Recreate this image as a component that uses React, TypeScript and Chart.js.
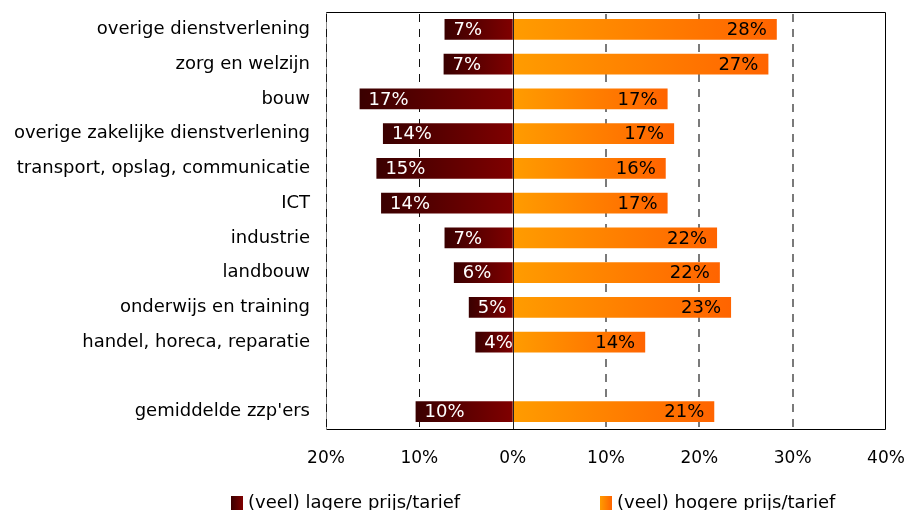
import React, { useEffect, useRef } from 'react';
import { Chart, registerables } from 'chart.js';

Chart.register(...registerables);

const categories = [
  'overige dienstverlening',
  'zorg en welzijn',
  'bouw',
  'overige zakelijke dienstverlening',
  'transport, opslag, communicatie',
  'ICT',
  'industrie',
  'landbouw',
  'onderwijs en training',
  'handel, horeca, reparatie',
  '',
  "gemiddelde zzp'ers",
];

const lowerValues: (number | null)[] = [7.3, 7.4, 16.4, 13.9, 14.6, 14.1, 7.3, 6.3, 4.7, 4.0, null, 10.4];
const higherValues: (number | null)[] = [28.3, 27.4, 16.6, 17.3, 16.4, 16.6, 21.9, 22.2, 23.4, 14.2, null, 21.6];

const lowerLabels = ['7%', '7%', '17%', '14%', '15%', '14%', '7%', '6%', '5%', '4%', '', '10%'];
const higherLabels = ['28%', '27%', '17%', '17%', '16%', '17%', '22%', '22%', '23%', '14%', '', '21%'];

const seriesNames = ['(veel) lagere prijs/tarief', '(veel) hogere prijs/tarief'];

const FONT = 'DejaVu Sans';
const LOWER_DARK = '#3a0000';
const LOWER_LIGHT = '#800000';
const HIGHER_LIGHT = '#ff9c00';
const HIGHER_DARK = '#ff6400';

function gradientFor(ctx: any, dark: string, light: string, fallback: string) {
  const chart = ctx.chart;
  const xs = chart.scales && chart.scales.x;
  if (!xs || ctx.type !== 'data' || ctx.raw == null) return fallback;
  const x0 = xs.getPixelForValue(0);
  const x1 = xs.getPixelForValue(ctx.raw as number);
  if (!isFinite(x0) || !isFinite(x1) || Math.abs(x1 - x0) < 1) return fallback;
  const g = chart.ctx.createLinearGradient(x1, 0, x0, 0);
  g.addColorStop(0, dark);
  g.addColorStop(1, light);
  return g;
}

const gridPlugin = {
  id: 'customGrid',
  beforeDatasetsDraw(chart: any) {
    const { ctx, chartArea } = chart;
    const xs = chart.scales.x;
    ctx.save();
    // left border: gray base
    const lx = Math.round(chartArea.left) + 0.5;
    ctx.strokeStyle = '#8a8a8a';
    ctx.lineWidth = 1;
    ctx.beginPath();
    ctx.moveTo(lx, chartArea.top);
    ctx.lineTo(lx, chartArea.bottom);
    ctx.stroke();
    xs.ticks.forEach((t: any) => {
      if (t.value === 0 || t.value === xs.max) return;
      const neg = t.value < 0;
      const x = Math.round(xs.getPixelForValue(t.value)) + (neg ? 0.5 : 0);
      ctx.setLineDash([8, 7]);
      ctx.strokeStyle = neg ? '#111' : '#7a7a7a';
      ctx.lineWidth = neg ? 1 : 2;
      ctx.beginPath();
      ctx.moveTo(x, chartArea.top + 2);
      ctx.lineTo(x, chartArea.bottom);
      ctx.stroke();
    });
    ctx.restore();
  },
  afterDatasetsDraw(chart: any) {
    const { ctx, chartArea } = chart;
    const xs = chart.scales.x;
    ctx.save();
    ctx.lineWidth = 1;
    ctx.strokeStyle = '#222';
    const x0 = Math.round(xs.getPixelForValue(0)) + 0.5;
    ctx.beginPath();
    ctx.moveTo(x0, chartArea.top);
    ctx.lineTo(x0, chartArea.bottom);
    ctx.stroke();
    ctx.strokeStyle = '#000';
    const l = Math.round(chartArea.left) + 0.5;
    const r = Math.round(chartArea.right) - 0.5;
    const t = Math.round(chartArea.top) + 0.5;
    const b = Math.round(chartArea.bottom) + 0.5;
    ctx.beginPath();
    ctx.moveTo(l, t);
    ctx.lineTo(r, t);
    ctx.lineTo(r, b);
    ctx.lineTo(l, b);
    ctx.stroke();
    ctx.restore();
  },
};

const labelPlugin = {
  id: 'barLabels',
  afterDatasetsDraw(chart: any) {
    const { ctx } = chart;
    ctx.save();
    ctx.font = `18px "${FONT}"`;
    ctx.textBaseline = 'middle';
    chart.data.datasets.forEach((ds: any, di: number) => {
      const meta = chart.getDatasetMeta(di);
      const labels = di === 0 ? lowerLabels : higherLabels;
      meta.data.forEach((el: any, i: number) => {
        if (ds.data[i] == null || !labels[i]) return;
        if (di === 0) {
          ctx.fillStyle = '#ffffff';
          ctx.textAlign = 'left';
          ctx.fillText(labels[i], el.x + 9, el.y + 1);
        } else {
          ctx.fillStyle = '#000000';
          ctx.textAlign = 'right';
          ctx.fillText(labels[i], el.x - 10, el.y + 1);
        }
      });
    });
    ctx.restore();
  },
};

const legendPlugin = {
  id: 'bottomLegend',
  afterDraw(chart: any) {
    const { ctx } = chart;
    const items = [
      { x: 231, text: seriesNames[0], dark: LOWER_DARK, light: LOWER_LIGHT, darkLeft: true },
      { x: 600, text: seriesNames[1], dark: HIGHER_DARK, light: HIGHER_LIGHT, darkLeft: false },
    ];
    ctx.save();
    items.forEach((it) => {
      const g = ctx.createLinearGradient(it.x, 0, it.x + 12, 0);
      if (it.darkLeft) {
        g.addColorStop(0, it.dark);
        g.addColorStop(1, it.light);
      } else {
        g.addColorStop(0, it.light);
        g.addColorStop(1, it.dark);
      }
      ctx.fillStyle = g;
      ctx.fillRect(it.x, 496, 12, 16);
      ctx.fillStyle = '#000';
      ctx.font = `18px "${FONT}"`;
      ctx.textAlign = 'left';
      ctx.textBaseline = 'alphabetic';
      ctx.fillText(it.text, it.x + 17, 508);
    });
    ctx.restore();
  },
};

export default function App() {
  const canvasRef = useRef<HTMLCanvasElement | null>(null);

  useEffect(() => {
    if (!canvasRef.current) return;
    const chart = new Chart(canvasRef.current, {
      type: 'bar',
      data: {
        labels: categories,
        datasets: [
          {
            label: seriesNames[0],
            data: lowerValues.map((v) => (v == null ? null : -v)),
            backgroundColor: (ctx: any) => gradientFor(ctx, LOWER_DARK, LOWER_LIGHT, '#700000'),
            borderWidth: 0,
            categoryPercentage: 0.6,
            barPercentage: 1,
          },
          {
            label: seriesNames[1],
            data: higherValues,
            backgroundColor: (ctx: any) => gradientFor(ctx, HIGHER_DARK, HIGHER_LIGHT, '#ff8000'),
            borderWidth: 0,
            categoryPercentage: 0.6,
            barPercentage: 1,
          },
        ] as any,
      },
      options: {
        indexAxis: 'y',
        responsive: false,
        animation: false,
        devicePixelRatio: 1,
        events: [],
        layout: { padding: { top: 12, right: 21, left: 0, bottom: 0 } },
        plugins: {
          legend: { display: false },
          tooltip: { enabled: false },
        },
        scales: {
          x: {
            type: 'linear',
            min: -20,
            max: 40,
            stacked: true,
            grid: { display: false, drawTicks: false },
            border: { display: false },
            ticks: {
              stepSize: 10,
              maxRotation: 0,
              padding: 19,
              color: '#000',
              font: { family: FONT, size: 17 },
              callback: (v: any) => Math.abs(Number(v)) + '%',
            },
            afterFit: (s: any) => {
              s.height = 81;
              s.paddingLeft = 0;
              s.paddingRight = 0;
              s.paddingTop = 0;
              s.paddingBottom = 0;
            },
          },
          y: {
            type: 'category',
            stacked: true,
            grid: { display: false, drawTicks: false },
            border: { display: false },
            ticks: {
              autoSkip: false,
              padding: 16,
              color: '#000',
              font: { family: FONT, size: 18 },
            },
            afterFit: (s: any) => {
              s.width = 326;
              s.paddingLeft = 0;
              s.paddingRight = 0;
              s.paddingTop = 0;
              s.paddingBottom = 0;
            },
          },
        },
      } as any,
      plugins: [gridPlugin, labelPlugin, legendPlugin],
    });
    return () => chart.destroy();
  }, []);

  return (
    <div style={{ position: 'fixed', left: 0, top: 0, width: 907, height: 510, overflow: 'hidden' }}>
      <canvas ref={canvasRef} width={907} height={510} style={{ display: 'block' }} />
    </div>
  );
}
